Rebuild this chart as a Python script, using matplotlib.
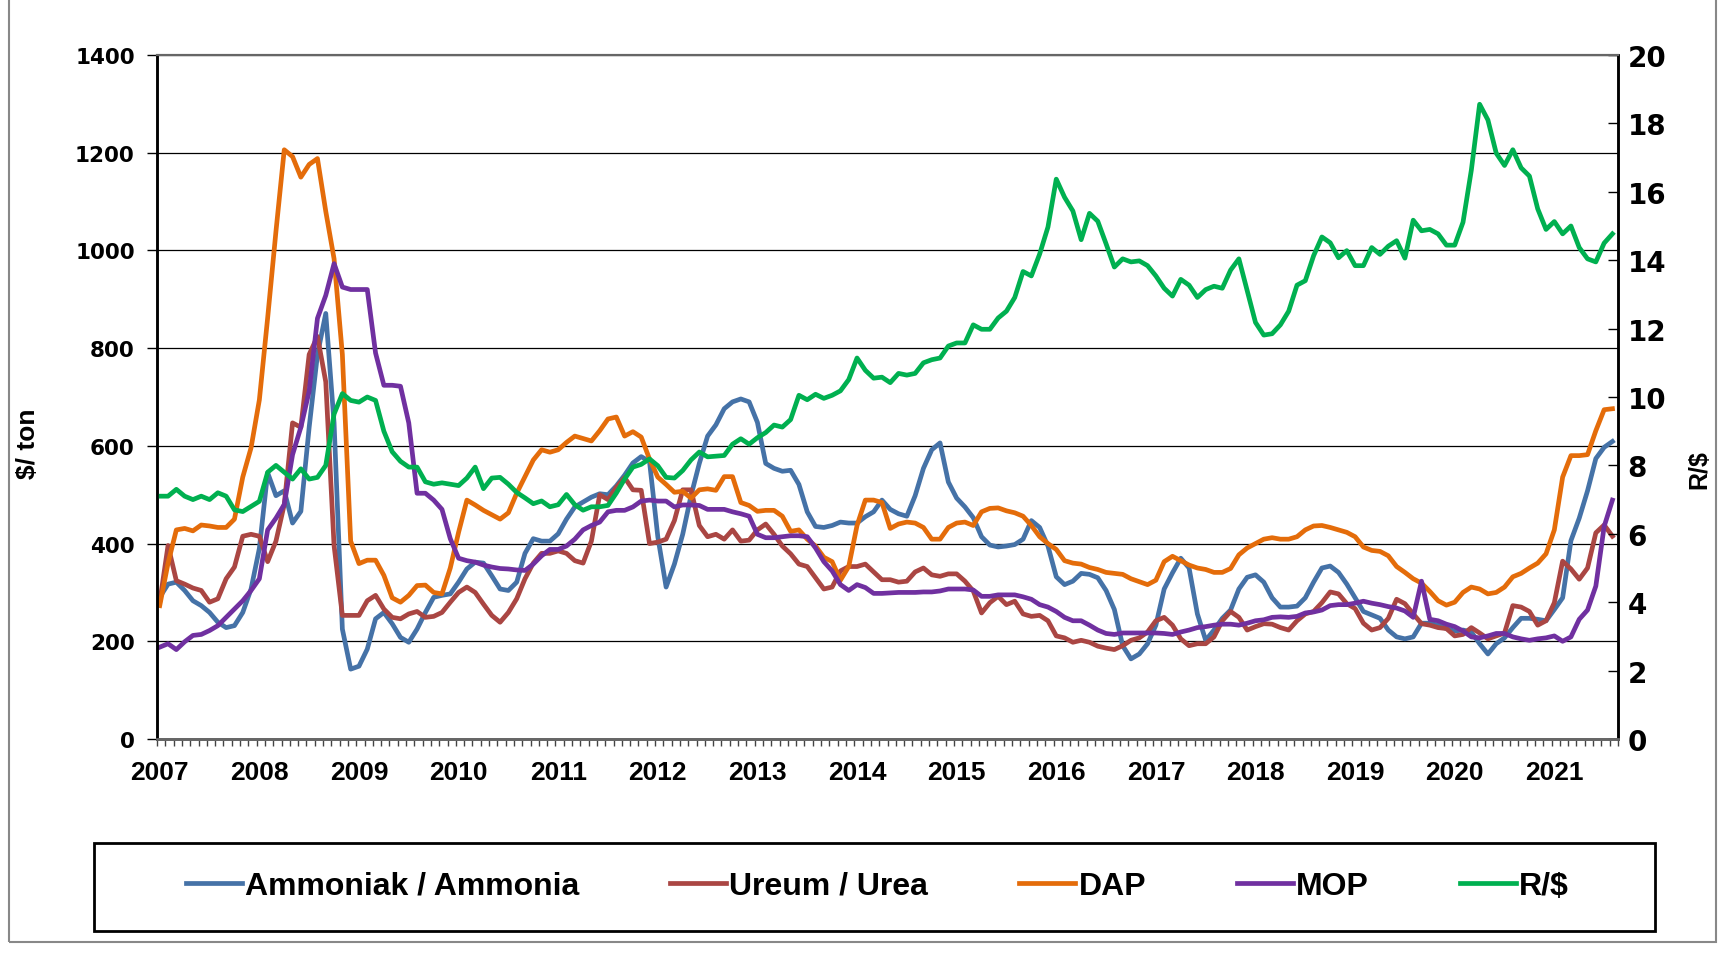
import numpy as np
import matplotlib.pyplot as plt
from matplotlib.patches import Rectangle
from matplotlib.lines import Line2D

# monthly values, Jan 2007 - Aug 2021
ammonia = [290, 317, 321, 304, 283, 273, 259, 239, 228, 232, 259, 307,
           390, 545, 498, 508, 442, 466, 638, 787, 871, 647, 225, 143,
           149, 184, 246, 259, 236, 208, 198, 225, 259, 290, 294, 297,
           321, 348, 362, 360, 334, 307, 304, 321, 380, 410, 405, 405,
           420, 450, 475, 485, 495, 502, 500, 518, 540, 565, 578, 568,
           414, 311, 358, 419, 498, 564, 620, 643, 676, 690, 696, 690,
           648, 564, 554, 548, 550, 521, 465, 435, 433, 437, 444, 442,
           442, 455, 465, 489, 470, 461, 456, 498, 554, 592, 606, 526,
           493, 475, 453, 414, 397, 393, 395, 398, 409, 447, 433, 395,
           332, 316, 323, 339, 337, 330, 304, 265, 191, 164, 174, 195,
           233, 307, 340, 370, 350, 256, 202, 223, 247, 264, 307, 331,
           336, 321, 289, 270, 270, 272, 289, 321, 350, 354, 341, 317,
           289, 261, 254, 247, 223, 209, 205, 209, 237, 237, 233, 226,
           221, 223, 219, 195, 174, 195, 207, 228, 247, 247, 245, 242,
           265, 289, 406, 452, 508, 574, 597, 609]
urea = [280, 396, 324, 317, 309, 304, 280, 287, 328, 352, 415, 419,
        415, 363, 405, 480, 647, 638, 787, 824, 731, 396, 253, 253,
        253, 283, 294, 266, 249, 246, 256, 261, 249, 251, 259, 280,
        300, 311, 300, 276, 253, 239, 259, 287, 328, 360, 380, 380,
        385, 380, 365, 360, 405, 500, 490, 515, 535, 510, 509, 400,
        403, 409, 447, 510, 510, 437, 414, 419, 409, 428, 405, 407,
        428, 440, 419, 395, 379, 358, 353, 330, 307, 311, 344, 353,
        353, 358, 342, 326, 326, 321, 323, 342, 350, 336, 333, 338,
        338, 323, 303, 258, 279, 292, 275, 282, 256, 251, 253, 242,
        211, 207, 198, 202, 198, 190, 186, 183, 191, 202, 207, 219,
        242, 249, 233, 205, 191, 195, 195, 209, 242, 261, 249, 223,
        230, 236, 235, 228, 223, 242, 256, 261, 279, 301, 297, 277,
        267, 237, 223, 228, 247, 286, 277, 256, 236, 233, 228, 226,
        211, 214, 228, 217, 205, 211, 217, 273, 270, 261, 233, 242,
        279, 364, 348, 327, 350, 422, 438, 415]
dap = [273, 360, 428, 431, 426, 438, 436, 433, 433, 450, 536, 596,
       694, 862, 1039, 1206, 1192, 1150, 1176, 1188, 1080, 983, 787, 405,
       359, 366, 366, 335, 289, 280, 294, 314, 315, 300, 297, 350,
       423, 489, 479, 468, 459, 450, 463, 503, 537, 571, 592, 587,
       592, 607, 620, 615, 610, 631, 655, 659, 620, 629, 618, 573,
       536, 521, 505, 507, 493, 510, 512, 509, 537, 537, 484, 478,
       466, 468, 468, 456, 425, 428, 409, 395, 372, 363, 325, 353,
       437, 489, 489, 484, 431, 440, 444, 442, 433, 409, 409, 433,
       442, 444, 437, 465, 472, 473, 467, 463, 456, 437, 414, 400,
       388, 365, 360, 358, 351, 347, 341, 339, 337, 328, 322, 316,
       325, 363, 374, 365, 356, 350, 347, 341, 341, 349, 377, 391,
       400, 409, 412, 409, 409, 414, 428, 436, 437, 433, 428, 423,
       414, 393, 386, 384, 375, 353, 341, 328, 319, 302, 283, 274,
       280, 300, 311, 307, 297, 300, 311, 332, 339, 350, 360, 379,
       428, 536, 580, 580, 582, 631, 674, 676]
mop = [188, 195, 183, 199, 212, 214, 222, 232, 249, 266, 283, 304,
       328, 428, 452, 480, 582, 638, 712, 861, 908, 973, 925, 920,
       920, 920, 790, 724, 724, 722, 647, 503, 503, 489, 470, 410,
       370, 365, 362, 356, 352, 349, 348, 346, 345, 358, 375, 388,
       388, 395, 409, 428, 437, 444, 465, 468, 468, 475, 487, 489,
       487, 487, 475, 479, 479, 478, 470, 470, 470, 465, 461, 456,
       419, 412, 412, 414, 416, 416, 414, 391, 363, 344, 316, 304,
       316, 310, 298, 298, 299, 300, 300, 300, 301, 301, 303, 307,
       307, 307, 305, 292, 292, 295, 295, 295, 291, 286, 275, 270,
       261, 249, 242, 242, 233, 223, 216, 214, 217, 217, 217, 217,
       217, 216, 214, 219, 223, 228, 230, 233, 235, 235, 233, 237,
       242, 244, 249, 250, 249, 251, 258, 260, 264, 273, 275, 275,
       278, 282, 278, 275, 271, 268, 262, 249, 323, 245, 242, 235,
       230, 221, 209, 207, 211, 216, 216, 209, 205, 202, 205, 207,
       211, 200, 209, 245, 264, 313, 435, 489]
rand = [7.1, 7.1, 7.3, 7.1, 7.0, 7.1, 7.0, 7.2, 7.1, 6.7, 6.65, 6.8,
        6.95, 7.8, 8.0, 7.8, 7.6, 7.9, 7.6, 7.65, 8.0, 9.5, 10.1, 9.9,
        9.85, 10.0, 9.9, 9.0, 8.4, 8.12, 7.95, 7.95, 7.52, 7.45, 7.49, 7.45,
        7.41, 7.63, 7.95, 7.32, 7.63, 7.65, 7.45, 7.21, 7.05, 6.88, 6.96, 6.79,
        6.85, 7.15, 6.85, 6.69, 6.79, 6.79, 6.83, 7.19, 7.6, 7.95, 8.03, 8.19,
        7.99, 7.65, 7.63, 7.85, 8.16, 8.39, 8.25, 8.27, 8.29, 8.62, 8.78, 8.62,
        8.81, 8.96, 9.18, 9.12, 9.34, 10.05, 9.92, 10.08, 9.96, 10.05, 10.18, 10.51,
        11.14, 10.78, 10.55, 10.58, 10.42, 10.69, 10.64, 10.69, 11.0, 11.09, 11.14, 11.49,
        11.58, 11.58, 12.11, 11.98, 11.98, 12.31, 12.51, 12.91, 13.67, 13.54, 14.18, 14.97,
        16.37, 15.84, 15.44, 14.6, 15.37, 15.14, 14.48, 13.8, 14.04, 13.95, 13.98, 13.84,
        13.54, 13.18, 12.95, 13.44, 13.27, 12.91, 13.14, 13.24, 13.18, 13.71, 14.04, 13.11,
        12.18, 11.81, 11.85, 12.11, 12.51, 13.27, 13.4, 14.13, 14.68, 14.51, 14.07, 14.28,
        13.84, 13.84, 14.37, 14.17, 14.41, 14.57, 14.06, 15.17, 14.86, 14.9, 14.77, 14.44,
        14.44, 15.11, 16.63, 18.56, 18.1, 17.13, 16.77, 17.23, 16.7, 16.46, 15.5, 14.9,
        15.13, 14.77, 15.0, 14.37, 14.04, 13.95, 14.5, 14.77]
years = [str(y) for y in range(2007, 2022)]
labels = ['Ammoniak / Ammonia', 'Ureum / Urea', 'DAP', 'MOP', 'R/$']
colors = ['#4572A7', '#AA4643', '#E46C0A', '#7030A0', '#00B050']

W, H = 1723, 954
sans = ['Liberation Sans', 'DejaVu Sans']

fig = plt.figure(figsize=(W / 100, H / 100), dpi=100)
ax = fig.add_axes([157 / W, 1 - 740 / H, (1618 - 157) / W, (740 - 56) / H])
ax2 = ax.twinx()

months = np.arange(len(ammonia))
lw = 3.4
for vals, c in zip([ammonia, urea, dap, mop], colors[:4]):
    ax.plot(months, vals, color=c, lw=lw, solid_joinstyle='round')
ax2.plot(months, rand, color=colors[4], lw=lw, solid_joinstyle='round')

ax.set_xlim(-0.33, len(ammonia) - 0.8)
ax.set_ylim(0, 1400)
ax2.set_ylim(0, 20)
ax.set_yticks(np.arange(0, 1401, 200))
ax2.set_yticks(np.arange(0, 21, 2))
ax.yaxis.grid(True, color='black', lw=0.9)
ax.set_axisbelow(True)

ax.set_xticks(np.arange(0, len(ammonia), 12))
ax.set_xticklabels(years)
ax.set_xticks(np.arange(len(ammonia) + 1) - 0.33, minor=True)
ax.tick_params(axis='x', which='major', length=0, pad=15)
ax.tick_params(axis='x', which='minor', length=5, width=1, color='#444444')
ax.tick_params(axis='y', length=7, width=1, pad=9)
ax2.tick_params(axis='y', direction='in', length=7, width=1, pad=7)

for t in ax.get_xticklabels():
    t.set_fontfamily(sans)
    t.set_fontweight('bold')
    t.set_fontsize(19)
for t in ax.get_yticklabels():
    t.set_fontfamily('DejaVu Sans')
    t.set_fontweight('bold')
    t.set_fontsize(15.5)
for t in ax2.get_yticklabels():
    t.set_fontfamily('DejaVu Sans')
    t.set_fontweight('bold')
    t.set_fontsize(20)

ax.set_ylabel('$/ ton', family=sans, weight='bold', fontsize=19)
ax.yaxis.set_label_coords(-0.080, 0.433)
ax2.set_ylabel('R/$', family=sans, weight='bold', fontsize=18)
ax2.yaxis.set_label_coords(1.0472, 0.396)

for a in (ax, ax2):
    a.spines['left'].set_linewidth(1.8)
    a.spines['right'].set_linewidth(1.8)
    a.spines['bottom'].set_color('#666666')
    a.spines['bottom'].set_linewidth(2)
    a.spines['top'].set_color('#666666')
    a.spines['top'].set_linewidth(1.5)

handles = [Line2D([], [], color=c, lw=lw) for c in colors]
fig.legend(handles, labels, loc='center', bbox_to_anchor=(877.5 / W, 1 - 887 / H),
           ncol=5, frameon=False, handlelength=1.75, handletextpad=0.1,
           columnspacing=2.85, prop={'family': sans, 'weight': 'bold', 'size': 23})
fig.add_artist(Rectangle((94 / W, 1 - 932 / H), (1655 - 94) / W, (932 - 844) / H,
                         transform=fig.transFigure, fill=False, ec='black', lw=2))
fig.add_artist(Rectangle((9 / W, 1 - 943 / H), (1716 - 9) / W, 950 / H,
                         transform=fig.transFigure, fill=False, ec='#888888', lw=1.5))

fig.savefig('out.png', dpi=100)
